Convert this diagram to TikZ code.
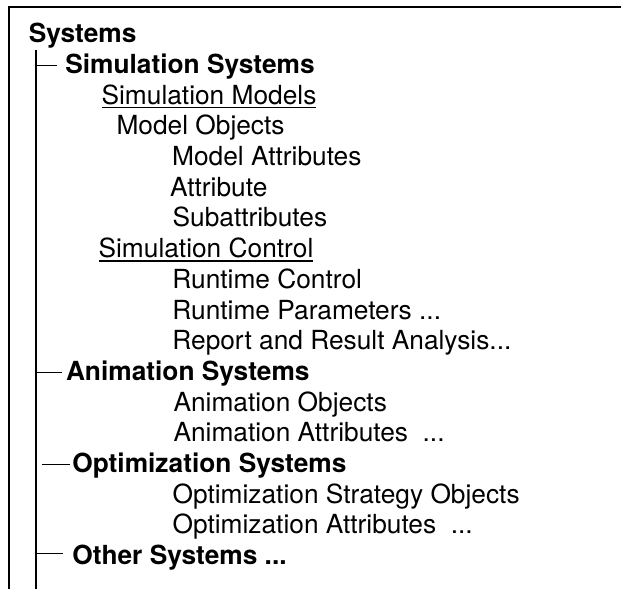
\documentclass[tikz,border=0pt]{standalone}
\usepackage{fontspec}
\setmainfont{TeX Gyre Heros}
\begin{document}
\begin{tikzpicture}[x=1pt,y=-1pt,
  item/.style={anchor=base west, inner sep=0pt, outer sep=0pt, font=\fontsize{26.3}{30}\selectfont},
  head/.style={item, font=\fontsize{26.3}{30}\selectfont\bfseries},
  frameline/.style={line width=2pt},
  treeline/.style={line width=1.3pt},
  uline/.style={line width=1.6pt}]
\useasboundingbox (0,0) rectangle (621,589);
% frame
\coordinate (fb) at (8.5,589);
\coordinate (fc) at (8.5,6.5);
\coordinate (fr) at (621,6.5);
\draw[frameline] (fb) -- (fc) -- (fr);
% texts
\node[head] (n0)  at (28.8,42.7)  {Systems};
\node[head] (n1)  at (65.3,73.4)  {Simulation Systems};
\node[item] (n2)  at (101.6,104.1) {Simulation Models};
\node[item] (n3)  at (116.5,134.8) {Model Objects};
\node[item] (n4)  at (172.2,165.5) {Model Attributes};
\node[item] (n5)  at (170.2,196.2) {Attribute};
\node[item] (n6)  at (172.6,226.9) {Subattributes};
\node[item] (n7)  at (98.6,257.6) {Simulation Control};
\node[item] (n8)  at (172.4,288.3) {Runtime Control};
\node[item] (n9)  at (172.4,319.0) {Runtime Parameters ...};
\node[item] (n10) at (172.4,349.7) {Report and Result Analysis...};
\node[head] (n11) at (66.0,380.4) {Animation Systems};
\node[item] (n12) at (173.5,411.1) {Animation Objects};
\node[item] (n13) at (173.5,441.8) {Animation Attributes\ \ ...};
\node[head] (n14) at (72.3,472.5) {Optimization Systems};
\node[item] (n15) at (172.6,503.2) {Optimization Strategy Objects};
\node[item] (n16) at (172.6,533.9) {Optimization Attributes\ \ ...};
\node[head] (n17) at (72.3,564.6) {Other Systems ...};
% underlines
\draw[uline] ([yshift=-3.2pt]n2.base west) -- ([yshift=-3.2pt]n2.base east);
\draw[uline] ([yshift=-3.2pt]n7.base west) -- ([yshift=-3.2pt]n7.base east);
% tree
\coordinate (tt) at (36,50);
\coordinate (tb) at (36,589);
\draw[treeline] (tt) -- (tb);
\coordinate (a1) at (36,65.5);   \coordinate (b1) at (56.7,65.5);
\coordinate (a2) at (36,372.3);  \coordinate (b2) at (61.7,372.3);
\coordinate (a3) at (41.7,464.5); \coordinate (b3) at (70,464.5);
\coordinate (a4) at (36,553.3);  \coordinate (b4) at (63.3,553.3);
\draw[treeline] (a1) -- (b1);
\draw[treeline] (a2) -- (b2);
\draw[treeline] (a3) -- (b3);
\draw[treeline] (a4) -- (b4);
\end{tikzpicture}
\end{document}
